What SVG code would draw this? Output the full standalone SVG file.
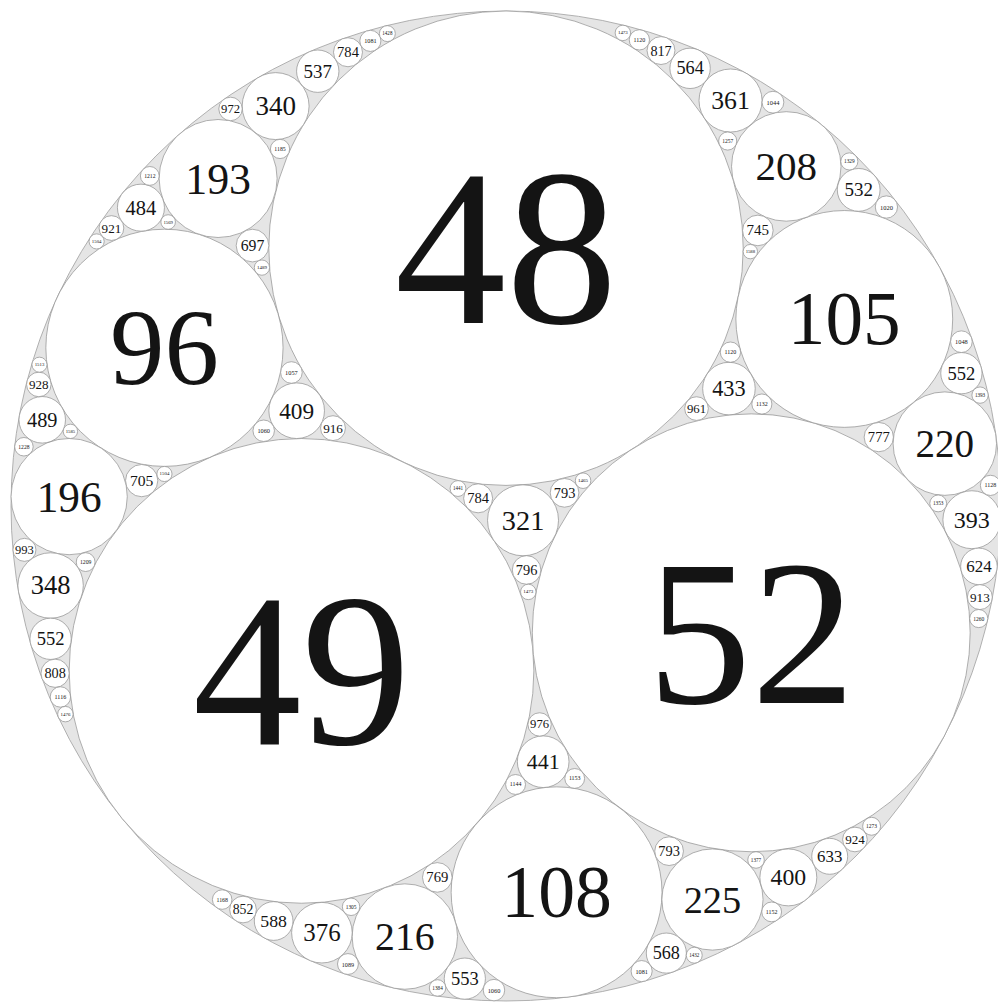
<svg xmlns="http://www.w3.org/2000/svg" width="998" height="1002" viewBox="0 0 998 1002">
<style>
circle{fill:#fff;stroke:#949494;stroke-width:0.75px;vector-effect:non-scaling-stroke}
#outer circle{fill:#e5e5e5;stroke:#9a9a9a}
text{font-family:"Liberation Serif","Times New Roman",serif;text-anchor:middle;dominant-baseline:central;fill:#141414}
</style>
<rect width="998" height="1002" fill="#fff"/>
<g transform="translate(506 506) scale(4.95)">
<g id="outer"><circle cx="0" cy="0" r="100"/></g>
<g id="n48"><circle cx="0" cy="-52.08" r="47.92"/><text x="0" y="-52.08" font-size="45">48</text></g>
<g id="n49"><circle cx="-41.31" cy="33.31" r="46.94"/><text x="-41.31" y="33.31" font-size="44">49</text></g>
<g id="n52"><circle cx="49.54" cy="25.62" r="44.23"/><text x="49.54" y="25.62" font-size="42">52</text></g>
<g id="n96"><circle cx="-69" cy="-31.96" r="23.96"/><text x="-69" y="-31.96" font-size="22">96</text></g>
<g id="n105"><circle cx="68.34" cy="-37.79" r="21.9"/><text x="68.34" y="-37.79" font-size="15.2">105</text></g>
<g id="n108"><circle cx="10.22" cy="78.04" r="21.3"/><text x="10.22" y="78.04" font-size="14.9">108</text></g>
<g id="n321"><circle cx="3.44" cy="2.89" r="7.17"/><text x="3.44" y="2.89" font-size="5.73">321</text></g>
<g id="n784a"><circle cx="-5.63" cy="-1.55" r="2.93"/><text x="-5.63" y="-1.55" font-size="2.94">784</text></g>
<g id="n793a"><circle cx="11.83" cy="-2.66" r="2.9"/><text x="11.83" y="-2.66" font-size="2.91">793</text></g>
<g id="n796"><circle cx="4.16" cy="12.92" r="2.89"/><text x="4.16" y="12.92" font-size="2.91">796</text></g>
<g id="n193"><circle cx="-58.16" cy="-66.16" r="11.92"/><text x="-58.16" y="-66.16" font-size="8.87">193</text></g>
<g id="n196"><circle cx="-88.25" cy="-1.9" r="11.74"/><text x="-88.25" y="-1.9" font-size="8.75">196</text></g>
<g id="n409"><circle cx="-42.29" cy="-19.25" r="5.62"/><text x="-42.29" y="-19.25" font-size="4.71">409</text></g>
<g id="n208"><circle cx="56.62" cy="-68.6" r="11.06"/><text x="56.62" y="-68.6" font-size="8.3">208</text></g>
<g id="n220"><circle cx="88.65" cy="-12.6" r="10.45"/><text x="88.65" y="-12.6" font-size="7.9">220</text></g>
<g id="n433"><circle cx="45.04" cy="-23.72" r="5.31"/><text x="45.04" y="-23.72" font-size="4.51">433</text></g>
<g id="n216"><circle cx="-20.44" cy="86.98" r="10.65"/><text x="-20.44" y="86.98" font-size="8.03">216</text></g>
<g id="n225"><circle cx="41.71" cy="79.5" r="10.22"/><text x="41.71" y="79.5" font-size="7.75">225</text></g>
<g id="n441"><circle cx="7.51" cy="51.66" r="5.22"/><text x="7.51" y="51.66" font-size="4.44">441</text></g>
<g id="n1441"><circle cx="-9.7" cy="-3.53" r="1.6"/><text x="-9.7" y="-3.53" font-size="1.02">1441</text></g>
<g id="n1465"><circle cx="15.57" cy="-5.11" r="1.57"/><text x="15.57" y="-5.11" font-size="1.01">1465</text></g>
<g id="n1473a"><circle cx="4.5" cy="17.36" r="1.56"/><text x="4.5" y="17.36" font-size="1">1473</text></g>
<g id="n340"><circle cx="-46.54" cy="-80.79" r="6.76"/><text x="-46.54" y="-80.79" font-size="5.46">340</text></g>
<g id="n484"><circle cx="-73.75" cy="-60.27" r="4.75"/><text x="-73.75" y="-60.27" font-size="4.14">484</text></g>
<g id="n697"><circle cx="-51.21" cy="-52.61" r="3.3"/><text x="-51.21" y="-52.61" font-size="3.18">697</text></g>
<g id="n348"><circle cx="-92" cy="16.06" r="6.61"/><text x="-92" y="16.06" font-size="5.36">348</text></g>
<g id="n489"><circle cx="-93.69" cy="-17.41" r="4.7"/><text x="-93.69" y="-17.41" font-size="4.1">489</text></g>
<g id="n705"><circle cx="-73.6" cy="-5.13" r="3.26"/><text x="-73.6" y="-5.13" font-size="3.15">705</text></g>
<g id="n916"><circle cx="-34.95" cy="-15.73" r="2.51"/><text x="-34.95" y="-15.73" font-size="2.66">916</text></g>
<g id="n1057"><circle cx="-43.35" cy="-26.97" r="2.18"/><text x="-43.35" y="-26.97" font-size="1.28">1057</text></g>
<g id="n1060a"><circle cx="-48.95" cy="-15.2" r="2.17"/><text x="-48.95" y="-15.2" font-size="1.28">1060</text></g>
<g id="n361"><circle cx="45.36" cy="-81.91" r="6.37"/><text x="45.36" y="-81.91" font-size="5.2">361</text></g>
<g id="n532"><circle cx="71.25" cy="-63.86" r="4.32"/><text x="71.25" y="-63.86" font-size="3.85">532</text></g>
<g id="n745"><circle cx="50.88" cy="-55.67" r="3.09"/><text x="50.88" y="-55.67" font-size="3.04">745</text></g>
<g id="n393"><circle cx="94.11" cy="2.77" r="5.85"/><text x="94.11" y="2.77" font-size="4.86">393</text></g>
<g id="n552a"><circle cx="92" cy="-26.83" r="4.17"/><text x="92" y="-26.83" font-size="3.75">552</text></g>
<g id="n777"><circle cx="75.31" cy="-13.92" r="2.96"/><text x="75.31" y="-13.92" font-size="2.95">777</text></g>
<g id="n961"><circle cx="38.49" cy="-19.68" r="2.39"/><text x="38.49" y="-19.68" font-size="2.58">961</text></g>
<g id="n1120a"><circle cx="45.34" cy="-31.08" r="2.05"/><text x="45.34" y="-31.08" font-size="1.22">1120</text></g>
<g id="n1132"><circle cx="51.69" cy="-20.6" r="2.03"/><text x="51.69" y="-20.6" font-size="1.21">1132</text></g>
<g id="n376"><circle cx="-37.19" cy="86.2" r="6.12"/><text x="-37.19" y="86.2" font-size="5.04">376</text></g>
<g id="n553"><circle cx="-8.32" cy="95.48" r="4.16"/><text x="-8.32" y="95.48" font-size="3.74">553</text></g>
<g id="n769"><circle cx="-13.88" cy="75.03" r="2.99"/><text x="-13.88" y="75.03" font-size="2.97">769</text></g>
<g id="n400"><circle cx="57.04" cy="75.03" r="5.75"/><text x="57.04" y="75.03" font-size="4.8">400</text></g>
<g id="n568"><circle cx="32.39" cy="90.32" r="4.05"/><text x="32.39" y="90.32" font-size="3.67">568</text></g>
<g id="n793b"><circle cx="32.95" cy="69.73" r="2.9"/><text x="32.95" y="69.73" font-size="2.91">793</text></g>
<g id="n976"><circle cx="6.79" cy="44.13" r="2.36"/><text x="6.79" y="44.13" font-size="2.56">976</text></g>
<g id="n1144"><circle cx="1.93" cy="56.26" r="2.01"/><text x="1.93" y="56.26" font-size="1.2">1144</text></g>
<g id="n1153"><circle cx="13.88" cy="55.04" r="2"/><text x="13.88" y="55.04" font-size="1.2">1153</text></g>
<g id="n537"><circle cx="-38.03" cy="-87.84" r="4.28"/><text x="-38.03" y="-87.84" font-size="3.83">537</text></g>
<g id="n972"><circle cx="-55.65" cy="-80.22" r="2.37"/><text x="-55.65" y="-80.22" font-size="2.56">972</text></g>
<g id="n1185"><circle cx="-45.65" cy="-72.13" r="1.94"/><text x="-45.65" y="-72.13" font-size="1.17">1185</text></g>
<g id="n921"><circle cx="-79.71" cy="-56.15" r="2.5"/><text x="-79.71" y="-56.15" font-size="2.65">921</text></g>
<g id="n1212"><circle cx="-71.96" cy="-66.68" r="1.9"/><text x="-71.96" y="-66.68" font-size="1.15">1212</text></g>
<g id="n1489"><circle cx="-49.31" cy="-48.16" r="1.54"/><text x="-49.31" y="-48.16" font-size="1">1489</text></g>
<g id="n552b"><circle cx="-92" cy="26.83" r="4.17"/><text x="-92" y="26.83" font-size="3.75">552</text></g>
<g id="n993"><circle cx="-97.28" cy="8.86" r="2.32"/><text x="-97.28" y="8.86" font-size="2.53">993</text></g>
<g id="n1209"><circle cx="-84.92" cy="11.33" r="1.9"/><text x="-84.92" y="11.33" font-size="1.16">1209</text></g>
<g id="n928"><circle cx="-94.38" cy="-24.56" r="2.48"/><text x="-94.38" y="-24.56" font-size="2.64">928</text></g>
<g id="n1228"><circle cx="-97.39" cy="-11.97" r="1.87"/><text x="-97.39" y="-11.97" font-size="1.14">1228</text></g>
<g id="n1585"><circle cx="-88" cy="-15.08" r="1.45"/><text x="-88" y="-15.08" font-size="0.95">1585</text></g>
<g id="n1504a"><circle cx="-69" cy="-6.47" r="1.53"/><text x="-69" y="-6.47" font-size="0.99">1504</text></g>
<g id="n564"><circle cx="37.19" cy="-88.42" r="4.08"/><text x="37.19" y="-88.42" font-size="3.69">564</text></g>
<g id="n1044"><circle cx="53.93" cy="-81.58" r="2.2"/><text x="53.93" y="-81.58" font-size="1.29">1044</text></g>
<g id="n1257"><circle cx="44.79" cy="-73.73" r="1.83"/><text x="44.79" y="-73.73" font-size="1.12">1257</text></g>
<g id="n1020"><circle cx="76.85" cy="-60.4" r="2.25"/><text x="76.85" y="-60.4" font-size="1.31">1020</text></g>
<g id="n1329"><circle cx="69.36" cy="-69.61" r="1.73"/><text x="69.36" y="-69.61" font-size="1.08">1329</text></g>
<g id="n1588"><circle cx="49.36" cy="-51.39" r="1.45"/><text x="49.36" y="-51.39" font-size="0.95">1588</text></g>
<g id="n624"><circle cx="95.54" cy="12.2" r="3.69"/><text x="95.54" y="12.2" font-size="3.43">624</text></g>
<g id="n1128"><circle cx="97.87" cy="-4.17" r="2.04"/><text x="97.87" y="-4.17" font-size="1.22">1128</text></g>
<g id="n1353"><circle cx="87.31" cy="-0.52" r="1.7"/><text x="87.31" y="-0.52" font-size="1.07">1353</text></g>
<g id="n1048"><circle cx="92" cy="-33.19" r="2.19"/><text x="92" y="-33.19" font-size="1.29">1048</text></g>
<g id="n1393"><circle cx="95.77" cy="-22.4" r="1.65"/><text x="95.77" y="-22.4" font-size="1.04">1393</text></g>
<g id="n588"><circle cx="-46.94" cy="83.84" r="3.91"/><text x="-46.94" y="83.84" font-size="3.58">588</text></g>
<g id="n1089"><circle cx="-31.93" cy="92.53" r="2.11"/><text x="-31.93" y="92.53" font-size="1.25">1089</text></g>
<g id="n1305"><circle cx="-31.3" cy="80.97" r="1.76"/><text x="-31.3" y="80.97" font-size="1.09">1305</text></g>
<g id="n1060b"><circle cx="-2.43" cy="97.8" r="2.17"/><text x="-2.43" y="97.8" font-size="1.28">1060</text></g>
<g id="n1384"><circle cx="-13.83" cy="97.36" r="1.66"/><text x="-13.83" y="97.36" font-size="1.05">1384</text></g>
<g id="n633"><circle cx="65.4" cy="70.77" r="3.63"/><text x="65.4" y="70.77" font-size="3.4">633</text></g>
<g id="n1152"><circle cx="53.67" cy="82" r="2"/><text x="53.67" y="82" font-size="1.2">1152</text></g>
<g id="n1377"><circle cx="50.51" cy="71.51" r="1.67"/><text x="50.51" y="71.51" font-size="1.05">1377</text></g>
<g id="n1081a"><circle cx="27.4" cy="93.96" r="2.13"/><text x="27.4" y="93.96" font-size="1.26">1081</text></g>
<g id="n1432"><circle cx="38.03" cy="90.75" r="1.61"/><text x="38.03" y="90.75" font-size="1.02">1432</text></g>
<g id="n784b"><circle cx="-31.92" cy="-91.67" r="2.93"/><text x="-31.92" y="-91.67" font-size="2.94">784</text></g>
<g id="n808"><circle cx="-91.09" cy="33.79" r="2.85"/><text x="-91.09" y="33.79" font-size="2.88">808</text></g>
<g id="n817"><circle cx="31.31" cy="-92.01" r="2.82"/><text x="31.31" y="-92.01" font-size="2.86">817</text></g>
<g id="n852"><circle cx="-53.13" cy="81.52" r="2.7"/><text x="-53.13" y="81.52" font-size="2.78">852</text></g>
<g id="n913"><circle cx="95.73" cy="18.4" r="2.52"/><text x="95.73" y="18.4" font-size="2.66">913</text></g>
<g id="n924"><circle cx="70.49" cy="67.37" r="2.49"/><text x="70.49" y="67.37" font-size="2.64">924</text></g>
<g id="n1081b"><circle cx="-27.4" cy="-93.96" r="2.13"/><text x="-27.4" y="-93.96" font-size="1.26">1081</text></g>
<g id="n1116"><circle cx="-90.02" cy="38.58" r="2.06"/><text x="-90.02" y="38.58" font-size="1.23">1116</text></g>
<g id="n1120b"><circle cx="26.94" cy="-94.17" r="2.05"/><text x="26.94" y="-94.17" font-size="1.22">1120</text></g>
<g id="n1168"><circle cx="-57.34" cy="79.51" r="1.97"/><text x="-57.34" y="79.51" font-size="1.19">1168</text></g>
<g id="n1260"><circle cx="95.5" cy="22.74" r="1.83"/><text x="95.5" y="22.74" font-size="1.12">1260</text></g>
<g id="n1273"><circle cx="73.86" cy="64.7" r="1.81"/><text x="73.86" y="64.7" font-size="1.11">1273</text></g>
<g id="n1428"><circle cx="-23.97" cy="-95.43" r="1.61"/><text x="-23.97" y="-95.43" font-size="1.02">1428</text></g>
<g id="n1476"><circle cx="-89.01" cy="42.05" r="1.56"/><text x="-89.01" y="42.05" font-size="1">1476</text></g>
<g id="n1473b"><circle cx="23.61" cy="-95.57" r="1.56"/><text x="23.61" y="-95.57" font-size="1">1473</text></g>
<g id="n1504b"><circle cx="-82.7" cy="-53.45" r="1.53"/><text x="-82.7" y="-53.45" font-size="0.99">1504</text></g>
<g id="n1513"><circle cx="-94.25" cy="-28.55" r="1.52"/><text x="-94.25" y="-28.55" font-size="0.98">1513</text></g>
<g id="n1569"><circle cx="-68.25" cy="-57.37" r="1.47"/><text x="-68.25" y="-57.37" font-size="0.96">1569</text></g>
</g>
<g id="connectors"></g>
</svg>
